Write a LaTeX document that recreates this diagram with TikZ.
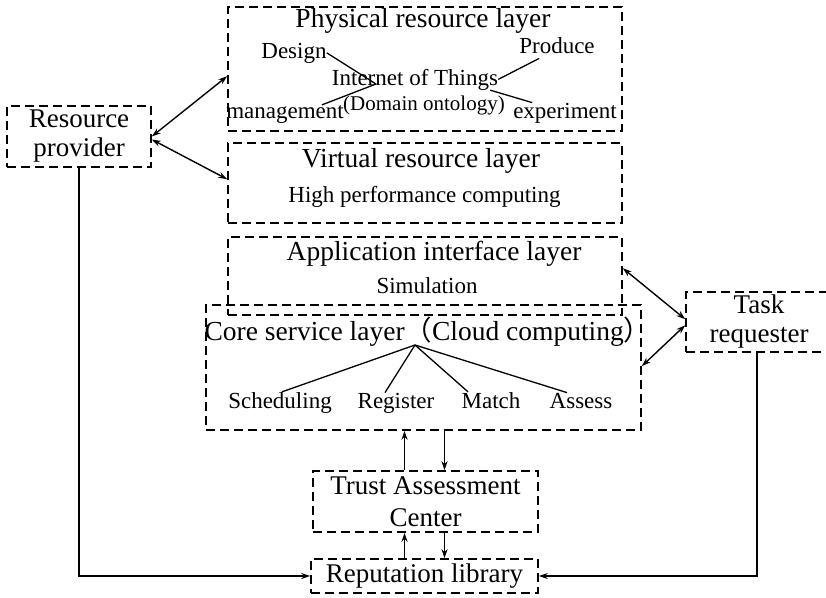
\documentclass[tikz,border=0pt]{standalone}
\usepackage{fontspec}
\setmainfont{Liberation Serif}
\newfontfamily\cjk{Noto Sans CJK SC}
\usepackage{tikz}
\usetikzlibrary{arrows.meta,positioning,calc}
\tikzset{
  layer/.style={draw,dash pattern=on 9pt off 5pt,line width=1.6pt,inner sep=0pt},
  party/.style={layer,align=center,font=\fontsize{27}{29}\selectfont},
  ttl/.style={font=\fontsize{27.5}{30}\selectfont,inner sep=0pt,anchor=base},
  lbl/.style={font=\fontsize{23}{26}\selectfont,inner sep=0pt,anchor=base},
  sml/.style={font=\fontsize{21}{24}\selectfont,inner sep=0pt,anchor=base},
  arr/.style={-{Stealth[length=9pt,width=6pt]},line width=1.4pt},
  darr/.style={{Stealth[length=9pt,width=6pt]}-{Stealth[length=9pt,width=6pt]},line width=1.4pt},
  br/.style={line width=1.3pt},
}

\begin{document}
\begin{tikzpicture}[x=1pt,y=-1pt]
\useasboundingbox (0,0) rectangle (826,597);
% layer frames
\node[layer,minimum width=394pt,minimum height=124pt] (phys) at (425,69) {};
\node[layer,minimum width=394pt,minimum height=80pt] (virt) at (425,183) {};
\node[layer,minimum width=394pt,minimum height=78pt] (app) at (425,276) {};
\node[layer,minimum width=435pt,minimum height=125pt] (core) at (423.5,367.5) {};
% outside parties
\node[party,minimum width=144pt,minimum height=61pt] (prov) at (79,136.5) {Resource\\provider};
\node[party,minimum width=146pt,minimum height=60pt] (req) at (759,322) {Task\\requester};
\node[party,minimum width=225pt,minimum height=61pt,font=\fontsize{27}{32}\selectfont] (trust) at (425.5,501.5) {Trust Assessment\\Center};
\node[party,minimum width=227pt,minimum height=34pt] (rep) at (424.5,576) {Reputation library};

% physical resource layer
\node[ttl] (physT) at (423,27) {Physical resource layer};
\node[lbl] (design) at (294,58) {Design};
\node[lbl] (produce) at (557,53) {Produce};
\node[lbl] (iot) at (415,85) {Internet of Things};
\node[sml] (onto) at (424,110) {(Domain ontology)};
\node[lbl] (mgmt) at (285,118) {management};
\node[lbl] (expt) at (565,118) {experiment};
\coordinate (hubA) at (376,84);
\draw[br] (design.east) -- (hubA);
\draw[br] ([xshift=-22pt]mgmt.north east) -- (hubA);
\draw[br] ($(produce.south west)+(20,5)$) -- (iot.east);
\draw[br] ([xshift=-8pt]iot.south east) -- ([xshift=19pt]expt.north west);

% virtual resource layer
\node[ttl] (virtT) at (421,167) {Virtual resource layer};
\node[lbl] (hpc) at (424.5,202) {High performance computing};

% application interface layer
\node[ttl] (appT) at (434,260) {Application interface layer};
\node[lbl] (sim) at (427,293) {Simulation};

% core service layer
\node[ttl] (coreT) at (428,340) {Core service layer{\cjk （}Cloud computing{\cjk ）}};
\coordinate (hubB) at (415,345);
\node[lbl] (sched) at (280,408) {Scheduling};
\node[lbl] (reg) at (396,408) {Register};
\node[lbl] (match) at (491,408) {Match};
\node[lbl] (assess) at (581,408) {Assess};
\foreach \n/\s in {sched/2,reg/-11,match/-23,assess/-14}
  \draw[br] (hubB) -- ([xshift=\s pt]\n.north);

% connectors
\draw[darr] (prov.east) -- ($(phys.north west)+(0,70)$);
\draw[darr] ([yshift=-3pt]prov.east) -- ($(virt.north west)+(0,37)$);
\draw[darr] ($(app.north east)+(0,32)$) -- ($(req.north west)+(0,28)$);
\draw[darr] ($(req.north west)+(0,34)$) -- ($(core.north east)+(0,62)$);
\draw[arr] ([xshift=-21pt]trust.north) -- ([xshift=-21pt]trust.north |- core.south);
\draw[arr] ([xshift=19pt]trust.north |- core.south) -- ([xshift=19pt]trust.north);
\draw[arr] ([xshift=-21pt]trust.south |- rep.north) -- ([xshift=-21pt]trust.south);
\draw[arr] ([xshift=19pt]trust.south) -- ([xshift=19pt]trust.south |- rep.north);
\draw[arr] (prov.south) |- (rep.west);
\draw[arr] ([xshift=-2pt]req.south) |- (rep.east);
\end{tikzpicture}
\end{document}
